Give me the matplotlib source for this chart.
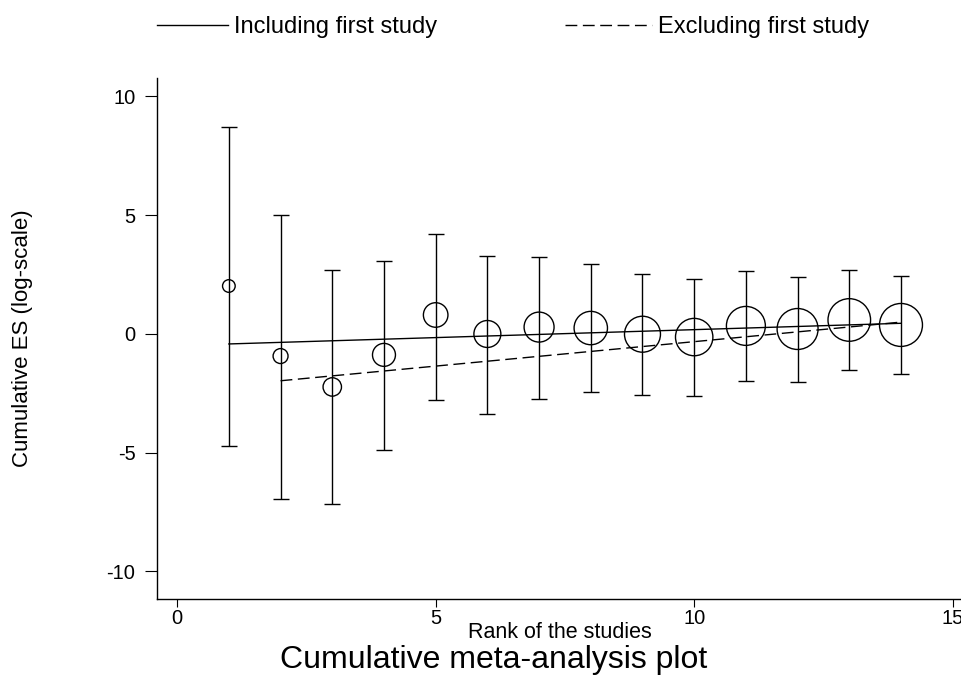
import numpy as np
import matplotlib.pyplot as plt
from matplotlib.lines import Line2D

plt.rcParams['font.family'] = ['Liberation Sans', 'DejaVu Sans']
plt.rcParams['axes.unicode_minus'] = False

# cumulative estimates by rank of study
rank = [1, 2, 3, 4, 5, 6, 7, 8, 9, 10, 11, 12, 13, 14]
es = [2.02, -0.93, -2.23, -0.88, 0.80, 0.00, 0.29, 0.25, -0.01, -0.13, 0.34, 0.21, 0.59, 0.38]
ci_low = [-4.72, -6.95, -7.16, -4.89, -2.78, -3.37, -2.74, -2.46, -2.56, -2.60, -1.98, -2.01, -1.52, -1.68]
ci_high = [8.72, 5.01, 2.70, 3.07, 4.21, 3.29, 3.24, 2.96, 2.53, 2.30, 2.67, 2.40, 2.70, 2.43]
weight = [40, 56, 85, 132, 151, 182, 225, 279, 324, 350, 380, 420, 454, 462]

# fitted trend lines
fit_inc_x = [1, 14]
fit_inc_y = [-0.42, 0.45]
fit_exc_x = [2, 14]
fit_exc_y = [-1.97, 0.50]

xticks = [0, 5, 10, 15]
yticks = [-10, -5, 0, 5, 10]

fig = plt.figure(figsize=(9.62, 6.78), dpi=100)
ax = fig.add_axes([0.1632, 0.1165, 0.8368, 0.7685])

es = np.array(es)
yerr = [es - np.array(ci_low), np.array(ci_high) - es]
ax.errorbar(rank, es, yerr=yerr, fmt='none', ecolor='black', elinewidth=1.0,
            capsize=5.5, capthick=1.0, zorder=2)
ax.scatter(rank, es, s=np.array(weight) * 2.07, facecolors='none',
           edgecolors='black', linewidths=1.0, zorder=3)

dash = (8.5, 4)
ax.plot(fit_inc_x, fit_inc_y, color='black', lw=1.0, zorder=4)
ax.plot(fit_exc_x, fit_exc_y, color='black', lw=1.0, dashes=dash, zorder=4)

ax.set_xlim(-0.39, 15.18)
ax.set_ylim(-11.16, 10.78)
ax.set_xticks(xticks)
ax.set_yticks(yticks)
ax.tick_params(axis='x', direction='out', length=6, width=0.8, labelsize=14.5, pad=1)
ax.tick_params(axis='y', direction='out', length=8.5, width=0.8, labelsize=14.5, pad=7)
for s in ['top', 'right']:
    ax.spines[s].set_visible(False)
for s in ['left', 'bottom']:
    ax.spines[s].set_linewidth(1.0)

ax.set_xlabel('Rank of the studies', fontsize=15.5, labelpad=-4)
ax.set_ylabel('Cumulative ES (log-scale)', fontsize=16, labelpad=53)

fig.text(0.513, 0.026, 'Cumulative meta-analysis plot', fontsize=23,
         ha='center', va='center')

h_inc = Line2D([], [], color='black', lw=1.0)
h_exc = Line2D([], [], color='black', lw=1.0, dashes=dash)
fig.legend([h_inc], ['Including first study'], loc='center left',
           bbox_to_anchor=(157 / 962, 1 - 27 / 678), frameon=False,
           fontsize=17, handlelength=3.0, handletextpad=0.25,
           borderpad=0, borderaxespad=0)
fig.legend([h_exc], ['Excluding first study'], loc='center left',
           bbox_to_anchor=(565 / 962, 1 - 27 / 678), frameon=False,
           fontsize=17, handlelength=3.7, handletextpad=0.25,
           borderpad=0, borderaxespad=0)

fig.savefig('out.png', dpi=100)
